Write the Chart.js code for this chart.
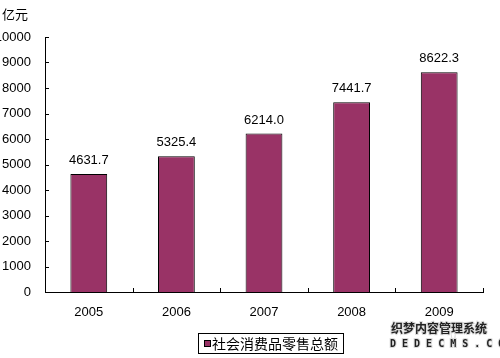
<!DOCTYPE html>
<html>
<head>
<meta charset="utf-8">
<script src="https://cdn.jsdelivr.net/npm/chart.js@4/dist/chart.umd.min.js"></script>
<style>
  html, body { margin: 0; padding: 0; background: #fff; }
  #wrap { width: 500px; height: 358px; }
</style>
</head>
<body>
<div id="wrap"><canvas id="c" width="500" height="358"></canvas></div>
<script>
const years = ['2005', '2006', '2007', '2008', '2009']
const retailSales = [4631.7, 5325.4, 6214.0, 7441.7, 8622.3]
const seriesName = '社会消费品零售总额'
const unitLabel = '亿元'
const yMax = 10000
const yStep = 1000

const latin = '"Liberation Sans", Arial, sans-serif'
const cjk = '"Noto Sans CJK SC", "Noto Sans", sans-serif'
const barColor = '#993366'

// inside tick marks, value labels, unit, legend box, watermark
const decorPlugin = {
  id: 'decor',
  afterDraw(chart) {
    const ctx = chart.ctx
    const x = chart.scales.x
    const y = chart.scales.y
    const area = chart.chartArea

    ctx.save()
    ctx.strokeStyle = '#000'
    ctx.lineWidth = 1
    ctx.beginPath()
    y.ticks.forEach(t => {
      const py = Math.round(y.getPixelForValue(t.value)) + 0.5
      ctx.moveTo(area.left, py)
      ctx.lineTo(area.left + 4, py)
    })
    for (let i = 0; i < years.length; i++) {
      const px = Math.round(x.getPixelForValue(i) + (x.getPixelForValue(1) - x.getPixelForValue(0)) / 2) + 0.5
      ctx.moveTo(px, area.bottom)
      ctx.lineTo(px, area.bottom - 4)
    }
    ctx.stroke()

    // value labels
    ctx.fillStyle = '#000'
    ctx.font = '13px ' + latin
    ctx.textAlign = 'center'
    ctx.textBaseline = 'alphabetic'
    chart.getDatasetMeta(0).data.forEach((bar, i) => {
      ctx.fillText(retailSales[i].toFixed(1), bar.x, bar.y - 10)
    })

    // unit
    ctx.textAlign = 'left'
    ctx.textBaseline = 'middle'
    ctx.font = '13px ' + cjk
    ctx.fillText(unitLabel, 2, 14)

    // legend
    const lx = 198.5, ly = 333.5, lw = 145, lh = 20
    ctx.strokeRect(lx, ly, lw, lh)
    ctx.fillStyle = barColor
    ctx.fillRect(204, 340, 7, 7)
    ctx.strokeStyle = '#000'
    ctx.strokeRect(204.5, 340.5, 6, 6)
    ctx.fillStyle = '#000'
    ctx.font = '14px ' + cjk
    ctx.fillText(seriesName, 212, 344)

    // watermark
    ctx.font = 'bold 12px ' + cjk
    ctx.lineWidth = 2
    ctx.strokeStyle = '#ddd'
    ctx.fillStyle = '#222'
    ctx.textAlign = 'left'
    ctx.strokeText('织梦内容管理系统', 391, 328)
    ctx.fillText('织梦内容管理系统', 391, 328)
    ctx.font = 'bold 10px "DejaVu Sans Mono", monospace'
    ctx.strokeText('D E D E C M S . C O M', 390, 344)
    ctx.fillText('D E D E C M S . C O M', 390, 344)
    ctx.restore()
  }
}

new Chart(document.getElementById('c').getContext('2d'), {
  type: 'bar',
  data: {
    labels: years,
    datasets: [{
      label: seriesName,
      data: retailSales,
      backgroundColor: barColor,
      borderColor: '#000',
      borderWidth: 1,
      categoryPercentage: 1,
      barPercentage: 0.42
    }]
  },
  options: {
    responsive: false,
    animation: false,
    layout: { padding: { top: 37, right: 17, left: 0, bottom: 0 } },
    plugins: {
      legend: { display: false },
      tooltip: { enabled: false }
    },
    scales: {
      x: {
        grid: { display: false, drawTicks: false },
        border: { display: true, color: '#000', width: 1 },
        ticks: {
          color: '#000',
          padding: 13,
          font: { family: latin, size: 13 }
        },
        afterFit(scale) { scale.height = 66 }
      },
      y: {
        min: 0,
        max: yMax,
        grid: { display: false, drawTicks: false },
        border: { display: true, color: '#000', width: 1 },
        ticks: {
          stepSize: yStep,
          color: '#000',
          padding: 14,
          font: { family: latin, size: 13 },
          callback: v => String(v)
        },
        afterFit(scale) { scale.width = 45 }
      }
    }
  },
  plugins: [decorPlugin]
})
</script>
</body>
</html>
